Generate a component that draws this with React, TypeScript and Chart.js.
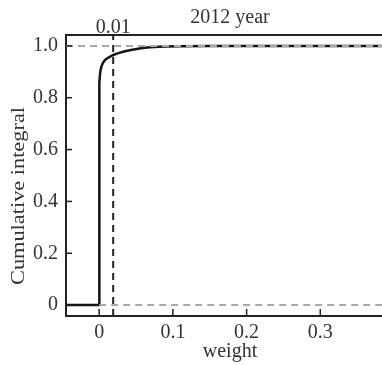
import React, { useEffect, useRef } from "react";
import { Chart, registerables } from "chart.js";

Chart.register(...registerables);

// ---- data ----
const weightValues = [
  -0.045, 0, 0, 0.0005, 0.0015, 0.003, 0.005, 0.008, 0.012, 0.019, 0.026, 0.035,
  0.045, 0.055, 0.065, 0.075, 0.09, 0.11, 0.15, 0.4,
];
const cumulativeValues = [
  0, 0, 0.7, 0.86, 0.9, 0.92, 0.934, 0.946, 0.954, 0.965, 0.972, 0.979,
  0.985, 0.99, 0.994, 0.996, 0.998, 0.999, 1.0, 1.0,
];
const xTickValues = [0, 0.1, 0.2, 0.3];
const yTickValues = [0, 0.2, 0.4, 0.6, 0.8, 1.0];
const xRange = [-0.045, 0.4];
const yRange = [-0.042, 1.042];
const markerWeight = 0.019;
const markerLabel = "0.01";
const refLevels = [1, 0];
const refStarts = [-0.045, 0];
const titleText = "2012 year";
const xTitleText = "weight";
const yTitleText = "Cumulative integral";

const FONT = "'Liberation Serif', 'Times New Roman', serif";
const TEXT = "#333333";
const AXIS = "#222222";

const framePlugin = {
  id: "frame",
  afterDraw(chart: any) {
    const { ctx, chartArea: a, scales } = chart;
    ctx.save();
    ctx.strokeStyle = AXIS;
    ctx.lineWidth = 2;
    ctx.setLineDash([]);
    ctx.beginPath();
    ctx.moveTo(a.left - 1, a.top);
    ctx.lineTo(a.right, a.top);
    ctx.stroke();
    ctx.lineWidth = 1.5;
    yTickValues.forEach((v) => {
      const py = scales.y.getPixelForValue(v);
      ctx.beginPath();
      ctx.moveTo(a.left, py);
      ctx.lineTo(a.left + 6, py);
      ctx.stroke();
    });
    xTickValues.forEach((v) => {
      const px = scales.x.getPixelForValue(v);
      ctx.beginPath();
      ctx.moveTo(px, a.bottom);
      ctx.lineTo(px, a.bottom - 7);
      ctx.stroke();
    });
    ctx.fillStyle = TEXT;
    ctx.font = `20px ${FONT}`;
    ctx.textAlign = "center";
    ctx.textBaseline = "alphabetic";
    ctx.fillText(markerLabel, scales.x.getPixelForValue(markerWeight), a.top - 2);

    ctx.translate(19, 196);
    ctx.rotate(-Math.PI / 2);
    ctx.font = `18px ${FONT}`;
    const w = ctx.measureText(yTitleText).width;
    ctx.scale(178 / w, 1);
    ctx.textBaseline = "middle";
    ctx.fillText(yTitleText, 0, 0);
    ctx.restore();
  },
};

export default function App() {
  const ref = useRef<HTMLCanvasElement | null>(null);
  useEffect(() => {
    if (!ref.current) return;
    const curve = weightValues.map((x, i) => ({ x, y: cumulativeValues[i] }));
    const refSets = refLevels.map((lv, i) => ({
      data: [
        { x: refStarts[i], y: lv },
        { x: xRange[1], y: lv },
      ],
      borderColor: "#a8a8a8",
      borderWidth: 2,
      borderDash: [7, 5],
      pointRadius: 0,
      order: 1,
    }));
    const chart = new Chart(ref.current, {
      type: "line",
      data: {
        datasets: [
          {
            data: curve,
            borderColor: "#151515",
            borderWidth: 2.5,
            pointRadius: 0,
            tension: 0,
            order: 2,
          },
          ...refSets,
          {
            data: [
              { x: markerWeight, y: yRange[0] },
              { x: markerWeight, y: yRange[1] },
            ],
            borderColor: AXIS,
            borderWidth: 2,
            borderDash: [7, 5],
            pointRadius: 0,
            order: 1,
          },
        ] as any,
      },
      options: {
        animation: false,
        responsive: false,
        devicePixelRatio: 1,
        layout: { padding: 0 },
        plugins: {
          legend: { display: false },
          tooltip: { enabled: false },
          title: {
            display: true,
            text: titleText,
            fullSize: false,
            color: TEXT,
            font: { family: FONT, size: 20, weight: "normal" as any },
            padding: { top: 6, bottom: 5 },
          },
        },
        scales: {
          x: {
            type: "linear",
            min: xRange[0],
            max: xRange[1],
            afterBuildTicks: (s: any) => {
              s.ticks = xTickValues.map((value) => ({ value }));
            },
            afterFit: (s: any) => {
              s.height = 49;
            },
            ticks: {
              color: TEXT,
              font: { family: FONT, size: 20 },
              padding: 5,
              maxRotation: 0,
              callback: (v: any) => (v === 0 ? "0" : Number(v).toFixed(1)),
            },
            grid: { display: false, drawTicks: false },
            border: { display: true, color: AXIS, width: 2 },
            title: {
              display: true,
              text: xTitleText,
              color: TEXT,
              font: { family: FONT, size: 20 },
              padding: { top: 0, bottom: 1 },
            },
          },
          y: {
            type: "linear",
            min: yRange[0],
            max: yRange[1],
            afterBuildTicks: (s: any) => {
              s.ticks = yTickValues.map((value) => ({ value }));
            },
            afterFit: (s: any) => {
              s.width = 66;
            },
            ticks: {
              color: TEXT,
              font: { family: FONT, size: 20 },
              padding: 8,
              callback: (v: any) => (v === 0 ? "0" : Number(v).toFixed(1)),
            },
            grid: { display: false, drawTicks: false },
            border: { display: true, color: AXIS, width: 2 },
          },
        },
      },
      plugins: [framePlugin],
    });
    return () => chart.destroy();
  }, []);
  return (
    <div
      style={{
        position: "fixed",
        left: 0,
        top: 0,
        width: 382,
        height: 365,
        overflow: "hidden",
        background: "#fff",
      }}
    >
      <canvas ref={ref} width={394} height={365} style={{ display: "block" }} />
    </div>
  );
}
